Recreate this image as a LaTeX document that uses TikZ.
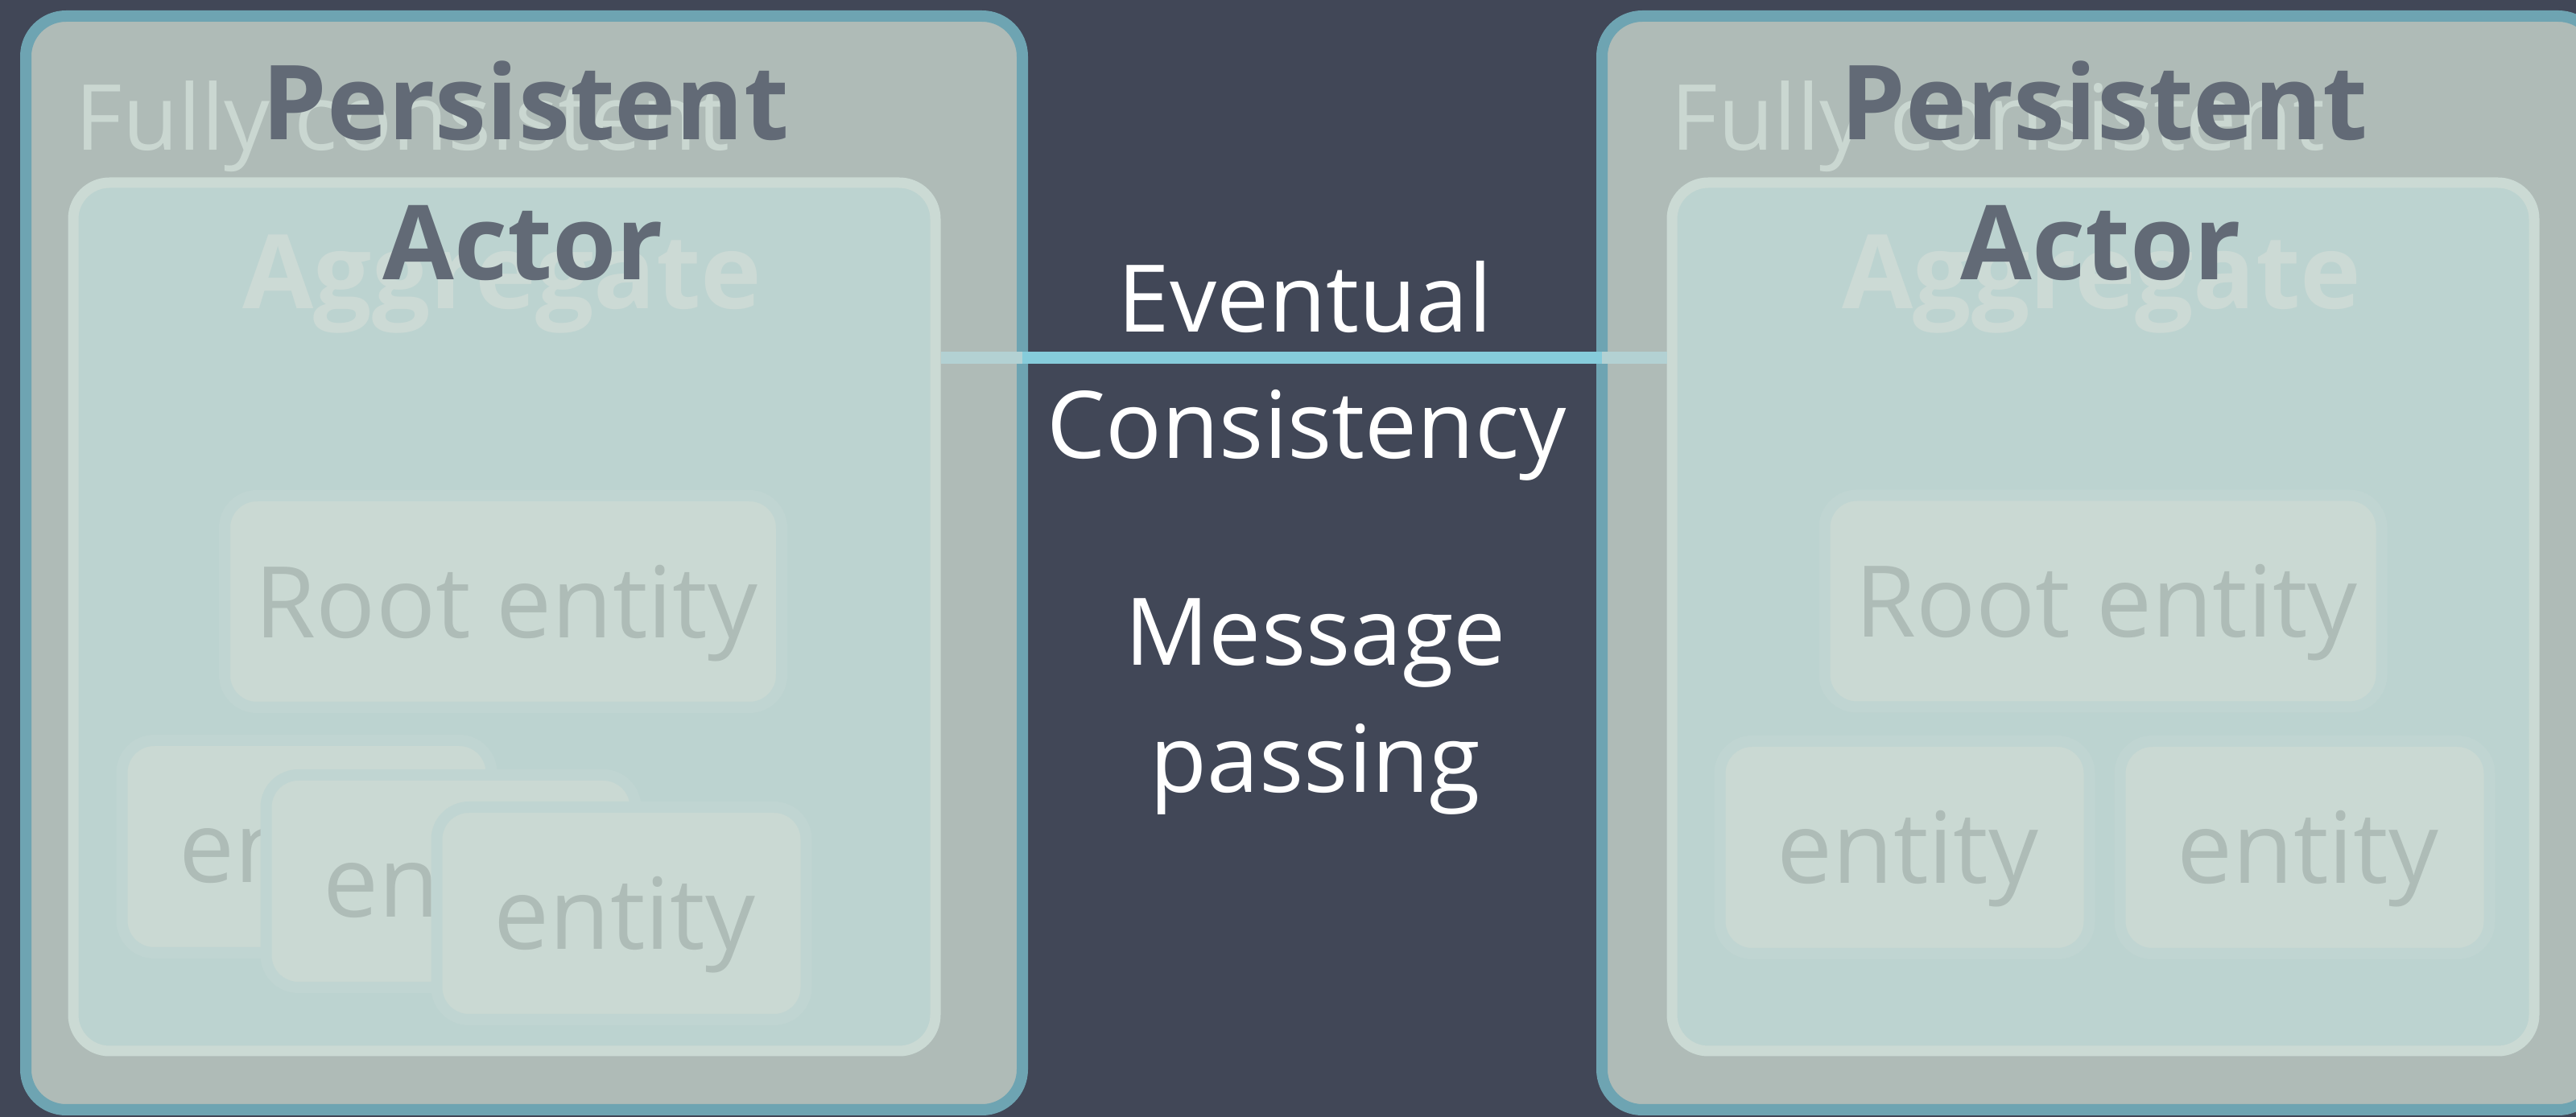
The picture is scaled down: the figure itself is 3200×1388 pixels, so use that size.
\documentclass[tikz,border=0pt]{standalone}
\usepackage{fontspec}
\setmainfont{Open Sans}
\definecolor{bg}{HTML}{414757}
\definecolor{outerborder}{HTML}{6EA4B2}
\definecolor{outerfill}{HTML}{AFBBB7}
\definecolor{aggfill}{HTML}{BCD3D0}
\definecolor{aggborder}{HTML}{CBDAD4}
\definecolor{entfill}{HTML}{CAD9D3}
\definecolor{entborder}{HTML}{C0D5D2}
\definecolor{enttextc}{HTML}{AEBCB7}
\definecolor{fullyc}{HTML}{CAD7D1}
\definecolor{aggtextc}{HTML}{CCDAD5}
\definecolor{actorc}{HTML}{626A76}
\definecolor{linebright}{HTML}{86CCDB}
\definecolor{linepale}{HTML}{B3D1D3}
\begin{document}
\begin{tikzpicture}[x=0.1mm,y=-0.1mm,
  outerbox/.style={draw=outerborder, fill=outerfill, line width=1.4mm, rounded corners=5mm,
    minimum width=123.8mm, minimum height=135.9mm, inner sep=0pt, outer sep=0pt},
  aggbox/.style={draw=aggborder, fill=aggfill, line width=1.3mm, rounded corners=4.5mm,
    minimum width=107.1mm, minimum height=107.9mm, inner sep=0pt, outer sep=0pt},
  rootbox/.style={draw=entborder, fill=entfill, line width=1.4mm, rounded corners=4mm,
    minimum width=69.2mm, minimum height=26.3mm, inner sep=0pt, outer sep=0pt},
  entbox/.style={draw=entborder, fill=entfill, line width=1.4mm, rounded corners=4mm,
    minimum width=45.9mm, minimum height=26.4mm, inner sep=0pt, outer sep=0pt},
  enttext/.style={anchor=base, text=enttextc, inner sep=0pt, xshift=0.4mm, yshift=-4.5mm,
    font=\fontsize{35pt}{40pt}\selectfont},
  fullytext/.style={anchor=base west, text=fullyc, inner sep=0pt,
    font=\fontsize{32.2pt}{38pt}\selectfont},
  aggtext/.style={anchor=base, text=aggtextc, inner sep=0pt,
    font=\fontsize{36.4pt}{40pt}\selectfont\bfseries},
  actortext/.style={anchor=base, text=actorc, inner sep=0pt,
    font=\fontsize{36.6pt}{40pt}\selectfont\bfseries},
  midtext/.style={anchor=base, text=white, inner sep=0pt,
    font=\fontsize{33pt}{40pt}\selectfont},
  connpale/.style={draw=linepale, line width=1.5mm},
  connbright/.style={draw=linebright, line width=1.5mm}
]
\fill[bg] (0,0) rectangle (3200,1388);
\useasboundingbox (0,0) rectangle (3200,1388);
\clip (0,0) rectangle (3200,1388);

% outer boxes
\node[outerbox] (outerL) at (651,699.5) {};
\node[outerbox] (outerR) at (2609,699.5) {};

% aggregate boxes
\node[aggbox] (aggL) at (626.5,766.5) {};
\node[aggbox] (aggR) at (2612.5,766.5) {};

% root entities
\node[rootbox] (rootL) at (625,747.5) {};
\node[rootbox] (rootR) at (2612.5,747) {};

% entities left (stacked)
\node[entbox] (e1) at (381,1052) {};
\node[enttext] (e1t) at (e1.center) {entity};
\node[entbox] (e2) at (560,1095) {};
\node[enttext] (e2t) at (e2.center) {entity};
\node[entbox] (e3) at (772,1135) {};
\node[enttext] (e3t) at (e3.center) {entity};

% entities right
\node[entbox] (ea) at (2366,1053) {};
\node[enttext] (eat) at (ea.center) {entity};
\node[entbox] (eb) at (2863,1053) {};
\node[enttext] (ebt) at (eb.center) {entity};

\node[enttext] (rootLt) at (rootL.center) {Root entity};
\node[enttext] (rootRt) at (rootR.center) {Root entity};

% connector
\coordinate (ly) at (0,445);
\draw[connpale, shorten <=0.65mm] (aggL.east |- ly) -- (outerL.east |- ly);
\draw[connbright] (outerL.east |- ly) -- (outerR.west |- ly);
\draw[connpale, shorten >=0.65mm] (outerR.west |- ly) -- (aggR.west |- ly);

% background labels
\node[fullytext] (fullyL) at (93,187) {Fully consistent};
\node[fullytext] (fullyR) at (2075,187) {Fully consistent};
\node[aggtext] (aggLt) at (624,384) {Aggregate};
\node[aggtext] (aggRt) at (2611,384) {Aggregate};

% persistent actor
\node[actortext] (persL) at (653,174) {Persistent};
\node[actortext] (actL) at (650,348) {Actor};
\node[actortext] (persR) at (2614,174) {Persistent};
\node[actortext] (actR) at (2610,348) {Actor};

% middle labels
\node[midtext] (ev) at (1621,413) {Eventual};
\node[midtext] (co) at (1623,570) {Consistency};
\node[midtext] (me) at (1634,827) {Message};
\node[midtext] (pa) at (1634,985) {passing};
\end{tikzpicture}
\end{document}
